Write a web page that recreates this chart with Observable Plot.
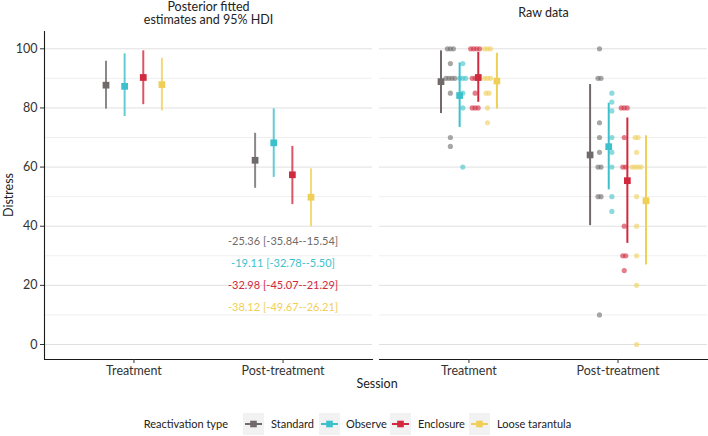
<!DOCTYPE html>
<html><head><meta charset="utf-8">
<script src="https://cdn.jsdelivr.net/npm/d3@7"></script>
<script src="https://cdn.jsdelivr.net/npm/@observablehq/plot@0.6"></script>
<style>
body{margin:0;background:#fff;font-family:Lato,"Open Sans",sans-serif;}
#wrap{position:relative;width:708px;height:436px;overflow:hidden;}
#ylab{position:absolute;left:8px;top:195px;transform:translate(-50%,-50%) rotate(-90deg);font-size:12.5px;color:#222;white-space:nowrap;}
#xlab{position:absolute;left:377px;top:383px;transform:translate(-50%,-50%);font-size:12.5px;color:#222;}
#legend{position:absolute;left:0;top:413px;width:708px;height:22px;font-size:11px;color:#222;}
#legend > *{position:absolute;top:0;}
#legend span{line-height:22px;white-space:nowrap;}
</style></head><body>
<div id="wrap"><div id="chart"></div><div id="ylab">Distress</div><div id="xlab">Session</div><div id="legend"></div></div>
<script>
const sessions = ["Treatment", "Post-treatment"];
const groups = ["Standard", "Observe", "Enclosure", "Loose tarantula"];
const colors = ["#706a6a", "#3cc1cc", "#d12a3e", "#efcf58"];
const panels = ["Posterior fitted\nestimates and 95% HDI", "Raw data"];
const legendTitle = "Reactivation type";
const yTicks = [0, 20, 40, 60, 80, 100];
const yMinor = [10, 30, 50, 70, 90];

// Posterior fitted estimates and 95% HDI (order of groups)
const estTreatment = [87.7, 87.3, 90.3, 87.9];
const hdiLoTreatment = [79.6, 77.1, 81.1, 79.0];
const hdiHiTreatment = [95.8, 98.3, 99.3, 96.8];
const estPost = [62.3, 68.2, 57.4, 49.8];
const hdiLoPost = [52.8, 56.5, 47.3, 39.9];
const hdiHiPost = [71.4, 79.7, 67.0, 59.4];

// Contrast labels (post - treatment)
const contrastLabels = ["-25.36 [-35.84--15.54]", "-19.11 [-32.78--5.50]", "-32.98 [-45.07--21.29]", "-38.12 [-49.67--26.21]"];
const contrastY = [35, 27.5, 20, 12.5];

// Raw data summaries (mean and spread)
const meanTreatment = [88.9, 84.2, 90.3, 89.1];
const loTreatment = [78.1, 73.4, 81.9, 79.6];
const hiTreatment = [99.3, 95.2, 98.8, 98.5];
const meanPost = [64.1, 66.9, 55.4, 48.6];
const loPost = [40.2, 52.3, 34.2, 26.9];
const hiPost = [87.9, 81.6, 76.6, 70.6];

// Raw data points
const rawStandardTreatment = [100, 100, 100, 95, 90, 90, 90, 90, 85, 70, 67];
const rawObserveTreatment = [95, 90, 90, 90, 85, 80, 60];
const rawEnclosureTreatment = [100, 100, 100, 100, 90, 90, 90, 85, 80, 80, 80];
const rawLooseTreatment = [100, 100, 100, 90, 90, 90, 85, 85, 80, 75];
const rawStandardPost = [100, 90, 90, 75, 70, 65, 60, 60, 50, 50, 10];
const rawObservePost = [85, 82, 79, 70, 65, 60, 50, 45];
const rawEnclosurePost = [80, 80, 80, 70, 60, 60, 40, 30, 30, 25];
const rawLoosePost = [70, 70, 65, 60, 60, 60, 60, 50, 40, 30, 20, 0];

// ---- build tables ----
const fitted = [], summary = [], raw = [];
const estS = [estTreatment, estPost], hloS = [hdiLoTreatment, hdiLoPost], hhiS = [hdiHiTreatment, hdiHiPost];
const mS = [meanTreatment, meanPost], loS = [loTreatment, loPost], hiS = [hiTreatment, hiPost];
const rawS = [[rawStandardTreatment, rawObserveTreatment, rawEnclosureTreatment, rawLooseTreatment],
              [rawStandardPost, rawObservePost, rawEnclosurePost, rawLoosePost]];
sessions.forEach((s, si) => groups.forEach((g, gi) => {
  fitted.push({panel: panels[0], si, gi, group: g, est: estS[si][gi], lo: hloS[si][gi], hi: hhiS[si][gi]});
  summary.push({panel: panels[1], si, gi, group: g, est: mS[si][gi], lo: loS[si][gi], hi: hiS[si][gi]});
  const vals = rawS[si][gi];
  const counts = d3.rollup(vals, v => v.length, v => v);
  const seen = new Map();
  vals.forEach(v => {
    const k = seen.get(v) || 0; seen.set(v, k + 1);
    raw.push({panel: panels[1], si, gi, group: g, value: v, k, n: counts.get(v)});
  });
}));
const contrasts = contrastLabels.map((t, i) => ({panel: panels[0], text: t, group: groups[i], y: contrastY[i]}));

const barX = d => d.si + 1 + (d.gi - 1.5) * 0.125;
const ptX = d => d.si + 1 + (d.gi - 1.5) * 0.083 + (d.k - (d.n - 1) / 2) * 0.02;

const chart = Plot.plot({
  width: 708, height: 404,
  marginLeft: 44, marginRight: 1, marginTop: 31, marginBottom: 45,
  style: {fontFamily: "Lato, 'Open Sans', sans-serif", fontSize: "12px", color: "#333", background: "#fff"},
  x: {domain: [0.4, 2.6], axis: null},
  y: {domain: [-5.07, 105.85], axis: null},
  fx: {domain: panels, paddingInner: 0.0209, paddingOuter: 0, round: false, axis: null, label: null},
  color: {domain: groups, range: colors},
  marks: [
    Plot.ruleY(yMinor, {stroke: "#efefef", strokeWidth: 1}),
    Plot.ruleY(yTicks, {stroke: "#e0e0e0", strokeWidth: 1}),
    Plot.frame({anchor: "bottom", stroke: "#1a1a1a", strokeWidth: 1.1}),
    Plot.ruleX([0.4], {fx: () => panels[0], stroke: "#1a1a1a", strokeWidth: 1.1}),
    Plot.axisY({ticks: yTicks, tickSize: 4, tickPadding: 3, label: null, fontSize: 12.5, color: "#333"}),
    Plot.axisX({ticks: [1, 2], tickFormat: d => sessions[d - 1], tickSize: 4, tickPadding: 3, label: null, fontSize: 12.5, color: "#333"}),
    Plot.text(panels, {fx: d => d, text: d => d, frameAnchor: "top", dy: -18.5, lineAnchor: "middle", lineHeight: 1.1, fontSize: 12.5, fill: "#222"}),
    // left panel
    Plot.ruleX(fitted, {fx: "panel", x: barX, y1: "lo", y2: "hi", stroke: "group", strokeWidth: 2, strokeOpacity: 0.8}),
    Plot.dot(fitted, {fx: "panel", x: barX, y: "est", symbol: "square", r: 3.8, fill: "group", stroke: null}),
    Plot.text(contrasts, {fx: "panel", x: () => 2, y: "y", text: "text", fill: "group", fontSize: 11}),
    // right panel
    Plot.dot(raw, {fx: "panel", x: ptX, y: "value", r: 2.6, fill: "group", fillOpacity: 0.6, stroke: null}),
    Plot.ruleX(summary, {fx: "panel", x: barX, y1: "lo", y2: "hi", stroke: "group", strokeWidth: 2}),
    Plot.dot(summary, {fx: "panel", x: barX, y: "est", symbol: "square", r: 3.8, fill: "group", stroke: null})
  ]
});
document.getElementById("chart").appendChild(chart);

// legend (layout positions)
const lg = document.getElementById("legend");
const boxLeft = [243, 319, 390, 469];
const labLeft = [271, 346, 418, 497];
const t = document.createElement("span");
t.textContent = legendTitle; t.style.right = (708 - 228) + "px"; lg.appendChild(t);
groups.forEach((g, i) => {
  const ns = "http://www.w3.org/2000/svg";
  const svg = document.createElementNS(ns, "svg");
  svg.setAttribute("width", 21); svg.setAttribute("height", 22);
  svg.style.left = boxLeft[i] + "px"; svg.style.position = "absolute";
  svg.innerHTML = `<rect x="0" y="0" width="21" height="22" fill="#f2f2f2"/>
    <line x1="2" x2="19" y1="11" y2="11" stroke="${colors[i]}" stroke-width="2"/>
    <rect x="7.2" y="7.7" width="6.6" height="6.6" fill="${colors[i]}"/>`;
  lg.appendChild(svg);
  const s = document.createElement("span"); s.style.left = labLeft[i] + "px"; s.textContent = g; lg.appendChild(s);
});
</script>
</body></html>
